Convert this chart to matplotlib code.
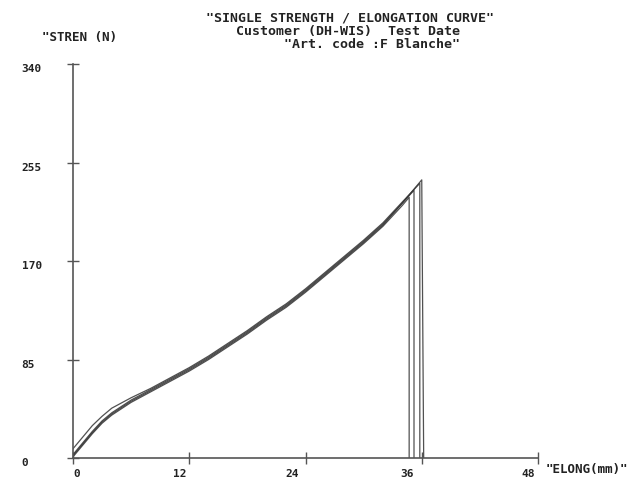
import matplotlib
matplotlib.use("Agg")
import matplotlib.pyplot as plt
from matplotlib.transforms import ScaledTranslation

# Elongation (mm) and strength (N) readings for each specimen
elong_a = [0, 1, 2, 3, 4, 6, 8, 10, 12, 14, 16, 18, 20, 22, 24, 26, 28, 30, 32, 34, 36.0, 36.2]
stren_a = [2, 12, 22, 31, 38, 49, 58, 67, 76, 86, 97, 108, 120, 131, 144, 158, 172, 186, 201, 220, 240, 0]

elong_b = [0, 1, 2, 3, 4, 6, 8, 10, 12, 14, 16, 18, 20, 22, 24, 26, 28, 30, 32, 34, 35.8, 35.8]
stren_b = [8, 18, 28, 36, 43, 52, 60, 69, 78, 88, 99, 110, 122, 133, 146, 160, 174, 188, 203, 221, 237, 0]

elong_c = [0, 1, 2, 3, 4, 6, 8, 10, 12, 14, 16, 18, 20, 22, 24, 26, 28, 30, 32, 34, 35.2, 35.2]
stren_c = [3, 13, 23, 32, 39, 50, 59, 68, 77, 87, 98, 109, 121, 132, 145, 159, 173, 187, 202, 220, 231, 0]

elong_d = [0, 1, 2, 3, 4, 6, 8, 10, 12, 14, 16, 18, 20, 22, 24, 26, 28, 30, 32, 34, 34.7, 34.7]
stren_d = [1, 11, 21, 30, 37, 48, 57, 66, 75, 85, 96, 107, 119, 130, 143, 157, 171, 185, 200, 218, 225, 0]

xticks = [0, 12, 24, 36, 48]
yticks = [0, 85, 170, 255, 340]

title_lines = ['"SINGLE STRENGTH / ELONGATION CURVE"',
               'Customer (DH-WIS)  Test Date',
               '"Art. code :F Blanche"']

mono = "DejaVu Sans Mono"

fig = plt.figure(figsize=(6.44, 4.83), dpi=100)
ax = fig.add_axes([73/644, 25/483, (538-73)/644, (458-64)/483])

for xs, ys in [(elong_a, stren_a), (elong_b, stren_b), (elong_c, stren_c), (elong_d, stren_d)]:
    ax.plot(xs, ys, color="#333333", lw=0.9, alpha=0.85)

ax.set_xlim(0, 48)
ax.set_ylim(0, 340)
ax.spines["top"].set_visible(False)
ax.spines["right"].set_visible(False)
for s in ["left", "bottom"]:
    ax.spines[s].set_color("#555555")
    ax.spines[s].set_linewidth(1.2)

ax.set_xticks(xticks)
ax.set_xticklabels([str(v) for v in xticks], fontfamily=mono, fontweight="bold", fontsize=8)
ax.set_yticks(yticks)
ax.set_yticklabels([str(v) for v in yticks], fontfamily=mono, fontweight="bold", fontsize=8)
ax.tick_params(direction="inout", length=8, width=1, color="#555555", labelcolor="#222222")
ax.tick_params(axis="x", pad=4)
ax.tick_params(axis="y", pad=33)
for lbl in ax.get_yticklabels():
    lbl.set_ha("left")
    lbl.set_transform(lbl.get_transform() + ScaledTranslation(0, -0.04, fig.dpi_scale_trans))
# the printout puts x labels a little left of their ticks
for lbl, dx in zip(ax.get_xticklabels(), [4, -10, -13, -15, -10]):
    lbl.set_transform(lbl.get_transform() + ScaledTranslation(dx/100, 0, fig.dpi_scale_trans))

# header text
for i, line in enumerate(title_lines):
    xc = [350, 348, 372][i]
    fig.text(xc/644, 1 - (18 + 13*i)/483, line, ha="center", va="center",
             fontfamily=mono, fontweight="bold", fontsize=9.5, color="#222222")

fig.text(42/644, 1 - 37/483, '"STREN (N)', ha="left", va="center",
         fontfamily=mono, fontweight="bold", fontsize=9, color="#222222")
fig.text(546/644, 1 - 470/483, '"ELONG(mm)"', ha="left", va="center",
         fontfamily=mono, fontweight="bold", fontsize=9, color="#222222")

fig.savefig("out.png", dpi=100)
